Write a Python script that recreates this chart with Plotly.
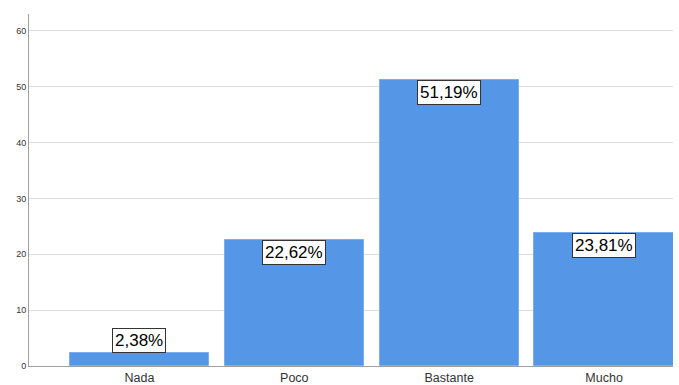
import plotly.graph_objects as go

categories = ["Nada", "Poco", "Bastante", "Mucho"]
values = [2.38, 22.62, 51.19, 23.81]
labels = ["2,38%", "22,62%", "51,19%", "23,81%"]
y_ticks = [0, 10, 20, 30, 40, 50, 60]

fig = go.Figure()
fig.add_trace(go.Bar(
    x=list(range(len(categories))), y=values, width=0.9,
    marker=dict(color="#5596e6", line=dict(color="#7aaef0", width=1)),
    hoverinfo="skip",
))

for i, (v, lab) in enumerate(zip(values, labels)):
    inside = v > 8
    fig.add_annotation(
        x=i, y=v, text=lab, showarrow=False,
        yanchor="top" if inside else "bottom",
        font=dict(family="Liberation Sans, Arial", size=17, color="black"),
        bgcolor="white", bordercolor="#333333", borderwidth=1, borderpad=2,
    )

fig.update_layout(
    width=679, height=385,
    margin=dict(l=29, r=6, t=14, b=19),
    plot_bgcolor="white", paper_bgcolor="white",
    showlegend=False,
    bargap=0,
    xaxis=dict(
        range=[-0.713, 3.445],
        tickmode="array", tickvals=list(range(len(categories))), ticktext=categories,
        showgrid=False, showline=True, linecolor="#a0a0a0", linewidth=1,
        ticks="", ticklabelstandoff=0,
        tickfont=dict(family="Liberation Sans, Arial", size=12.5, color="#333333"),
        zeroline=False, fixedrange=True, automargin=False,
    ),
    yaxis=dict(
        range=[0, 63], tickvals=y_ticks,
        showgrid=True, gridcolor="#dcdcdc", gridwidth=1,
        showline=True, linecolor="#a0a0a0", linewidth=1,
        ticks="", tickfont=dict(family="Liberation Sans, Arial", size=9, color="#333333"),
        zeroline=False, fixedrange=True, automargin=False,
    ),
)

fig.write_html(
    "out.html",
    config={"displayModeBar": False},
    post_script="document.body.style.margin='0';document.body.style.overflow='hidden';",
)
